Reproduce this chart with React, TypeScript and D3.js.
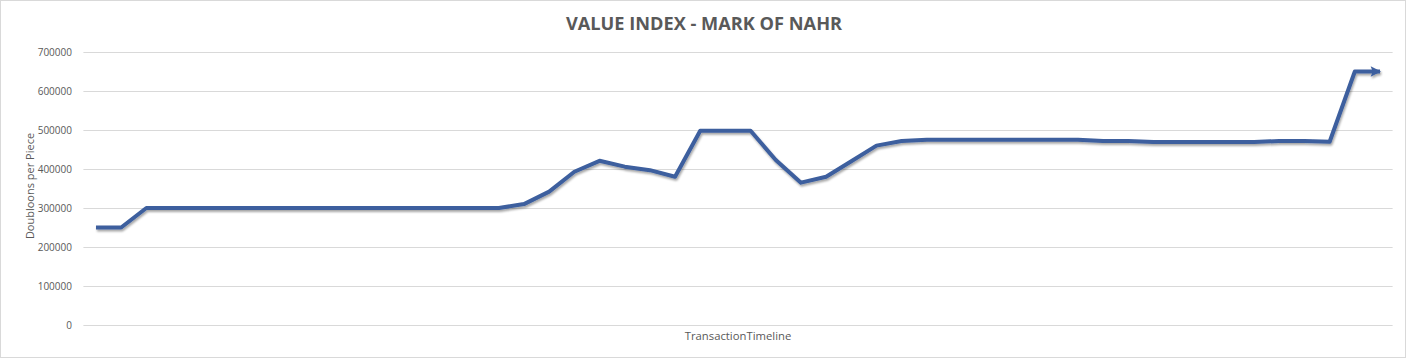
import React from "react";
import * as d3 from "d3";

const categories: string[] = [
  "1","2","3","4","5","6","7","8","9","10","11","12","13","14","15","16","17","18","19","20",
  "21","22","23","24","25","26","27","28","29","30","31","32","33","34","35","36","37","38","39","40",
  "41","42","43","44","45","46","47","48","49","50","51","52",
];

const values: number[] = [
  250000, 250000,
  300000, 300000, 300000, 300000, 300000, 300000, 300000, 300000, 300000, 300000, 300000, 300000, 300000, 300000, 300000,
  310000, 342000, 393000, 421000, 406000, 397000, 380000,
  498000, 498000, 498000,
  423000, 365000, 380000, 420000, 460000, 472000,
  475000, 475000, 475000, 475000, 475000, 475000, 475000,
  472000, 472000,
  469000, 469000, 469000, 469000, 469000,
  472000, 472000,
  470000,
  650000, 650000,
];

const yTicks: number[] = [0, 100000, 200000, 300000, 400000, 500000, 600000, 700000];

const title = "VALUE INDEX - MARK OF NAHR";
const yTitle = "Doubloons per Piece";
const xTitle = "TransactionTimeline";

const W = 1408;
const H = 359;
const plot = { left: 83.4, right: 1392.6, top: 52, bottom: 325 };

export default function App() {
  const x = d3
    .scaleBand<string>()
    .domain(categories)
    .range([plot.left, plot.right])
    .padding(0);
  const y = d3.scaleLinear().domain([0, 700000]).range([plot.bottom, plot.top]);

  const line = d3
    .line<number>()
    .x((_, i) => (x(categories[i]) as number) + x.bandwidth() / 2)
    .y((d) => y(d));

  const font = "'Open Sans', 'Noto Sans', sans-serif";
  const textColor = "#595959";

  return (
    <div style={{ position: "fixed", left: 0, top: 0 }}>
      <svg width={W} height={H} style={{ display: "block", background: "#fff" }}>
        <defs>
          <filter id="shadow" x="-5%" y="-20%" width="110%" height="140%">
            <feDropShadow dx="1" dy="2" stdDeviation="1.2" floodColor="#000" floodOpacity="0.35" />
          </filter>
          <marker
            id="arrow"
            viewBox="0 0 10 10"
            refX="9"
            refY="5"
            markerWidth="2.7"
            markerHeight="2.6"
            orient="auto"
            markerUnits="strokeWidth"
          >
            <path d="M0,0 L10,5 L0,10 L2,5 Z" fill="#3C5E9E" />
          </marker>
        </defs>
        <rect x={0.5} y={0.5} width={W - 3} height={H - 2} fill="#fff" stroke="#d9d9d9" strokeWidth={1} />
        <text
          x={704}
          y={30}
          textAnchor="middle"
          fontFamily={font}
          fontWeight={700}
          fontSize={18.2}
          fill={textColor}
        >
          {title}
        </text>
        {yTicks.map((t) => (
          <g key={t}>
            <line
              x1={plot.left}
              x2={plot.right}
              y1={Math.round(y(t)) + 0.5}
              y2={Math.round(y(t)) + 0.5}
              stroke="#d9d9d9"
              strokeWidth={1}
            />
            <text
              x={72}
              y={y(t) + 4}
              textAnchor="end"
              fontFamily={font}
              fontSize={10}
              fill={textColor}
            >
              {t}
            </text>
          </g>
        ))}
        <text
          transform={`translate(34,${186}) rotate(-90)`}
          textAnchor="middle"
          fontFamily={font}
          fontSize={11}
          fill={textColor}
        >
          {yTitle}
        </text>
        <text
          x={(plot.left + plot.right) / 2}
          y={339.5}
          textAnchor="middle"
          fontFamily={font}
          fontSize={11.3}
          fill={textColor}
        >
          {xTitle}
        </text>
        <path
          d={line(values) || ""}
          fill="none"
          stroke="#3C5E9E"
          strokeWidth={4}
          strokeLinejoin="round"
          strokeLinecap="butt"
          filter="url(#shadow)"
          markerEnd="url(#arrow)"
        />
      </svg>
    </div>
  );
}
